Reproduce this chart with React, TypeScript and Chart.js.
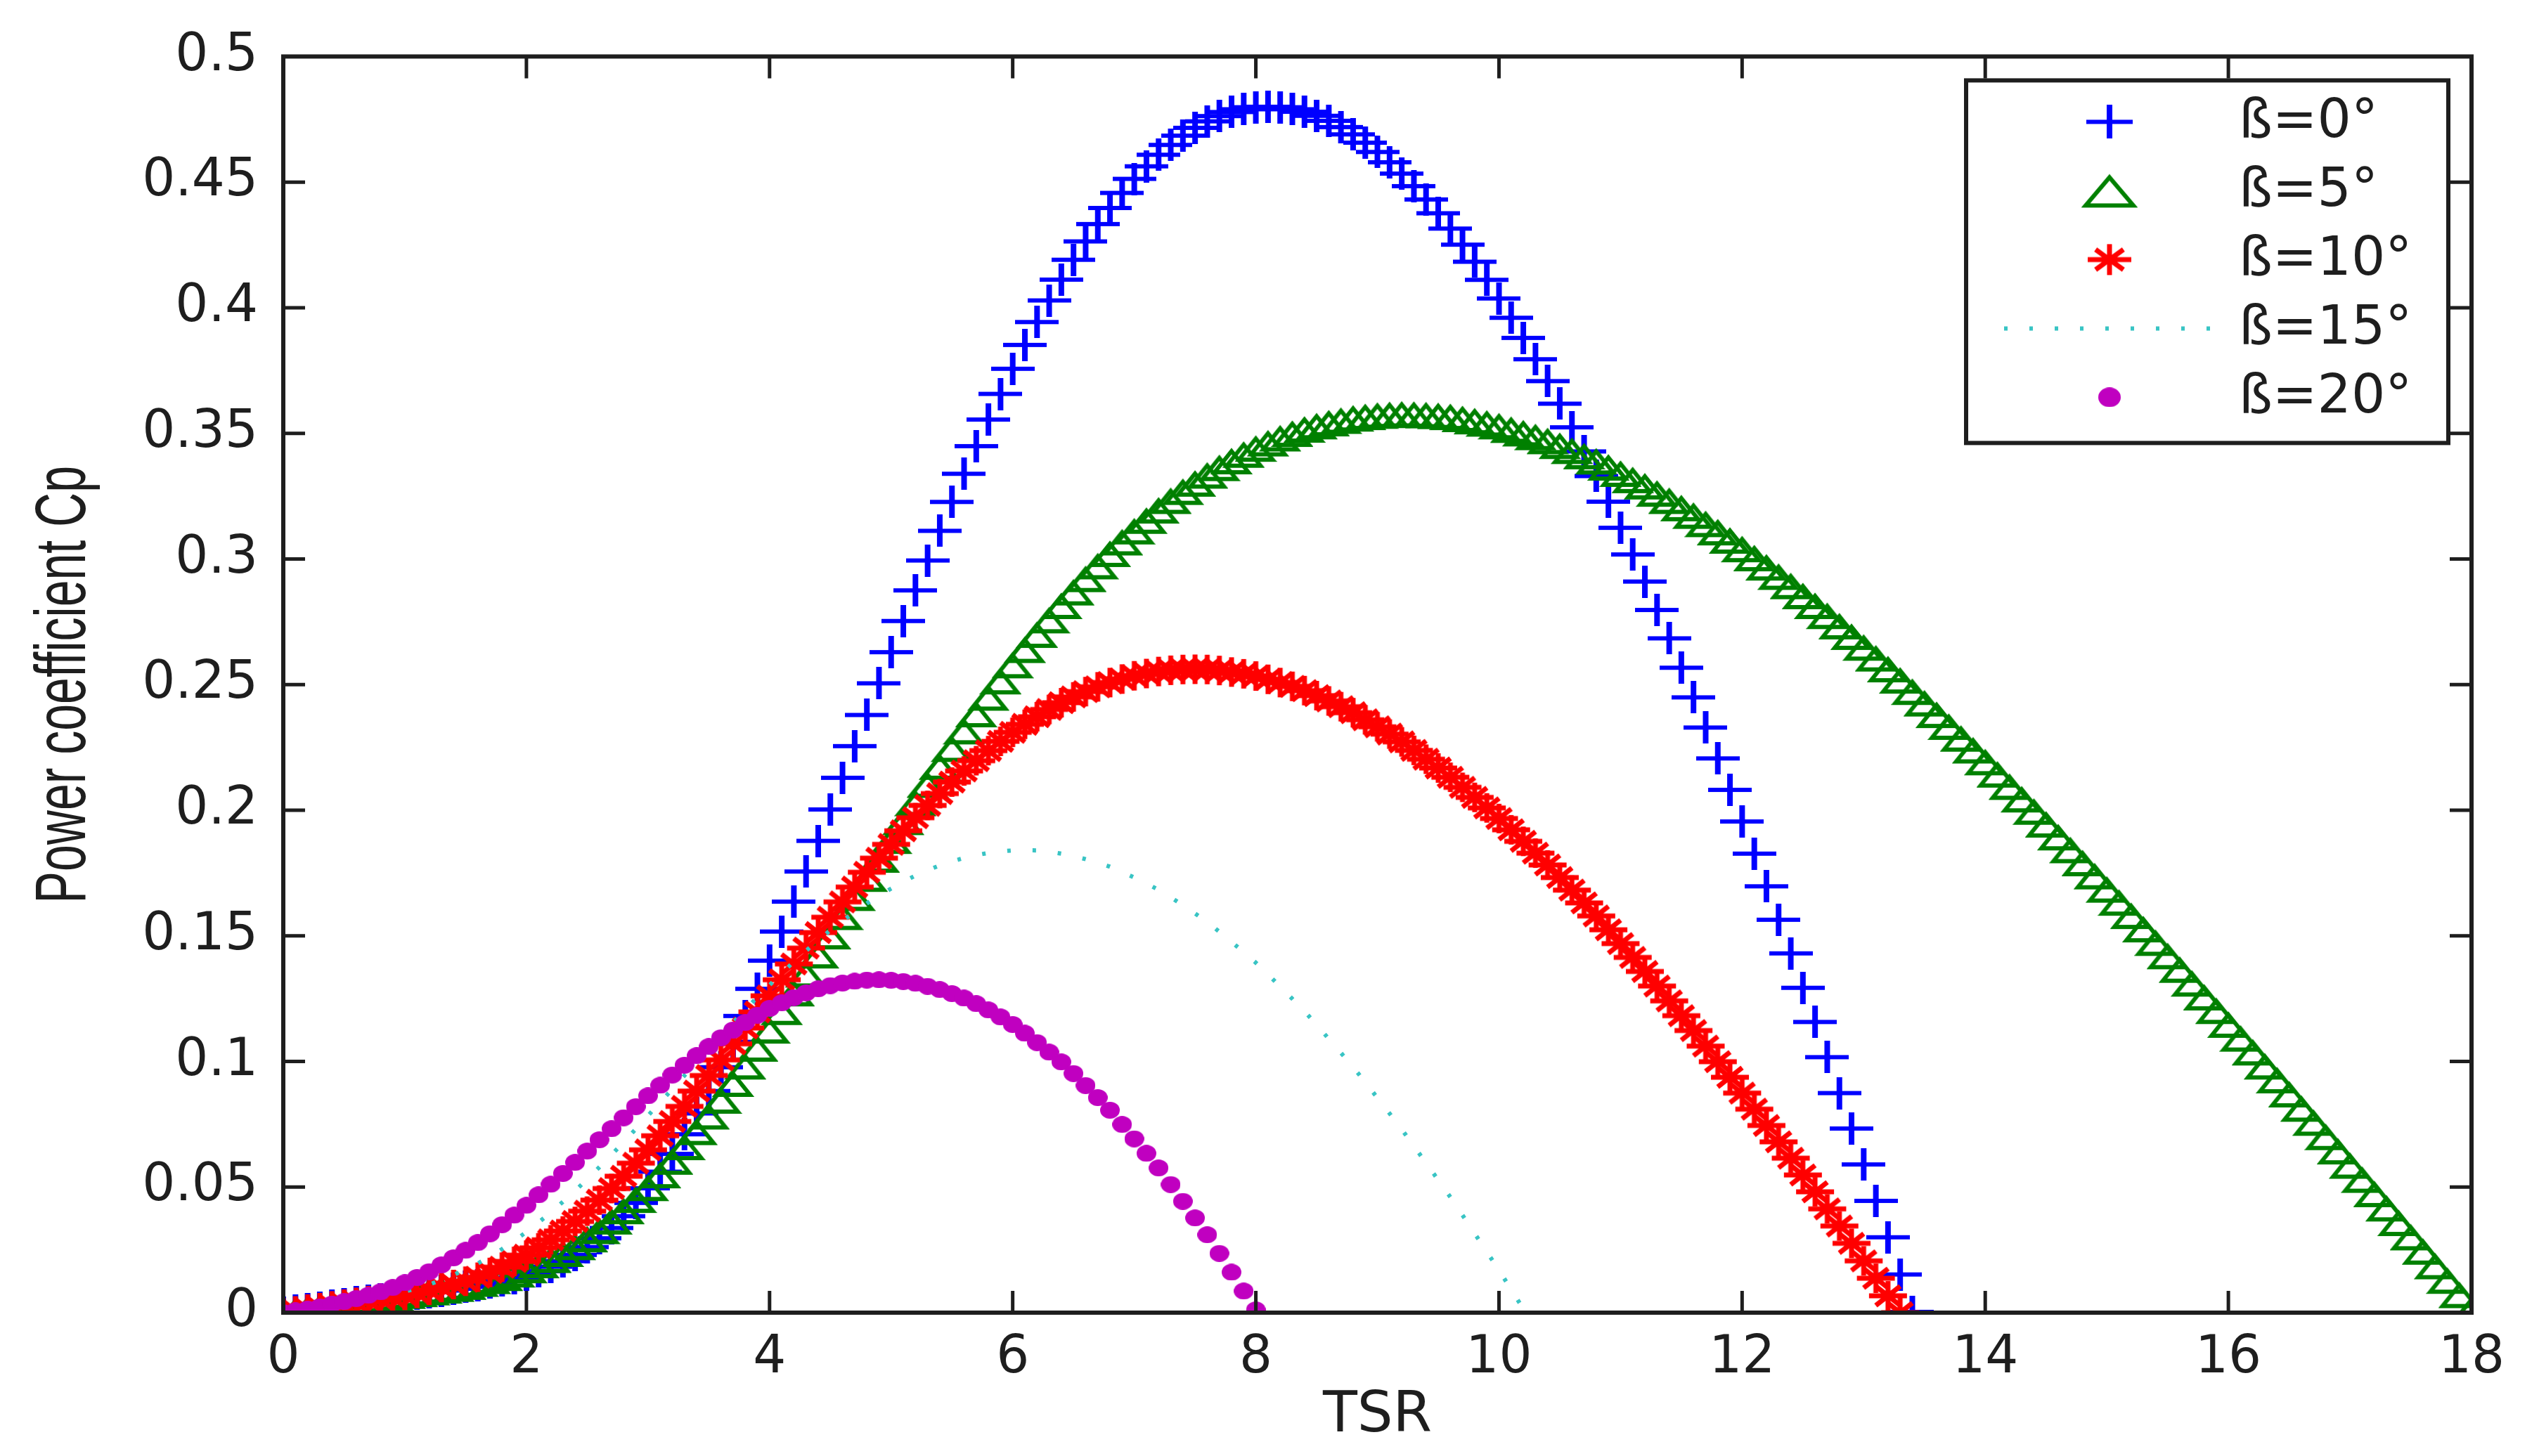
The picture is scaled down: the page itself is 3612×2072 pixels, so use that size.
import React, { useEffect, useRef } from "react";
import { Chart, registerables } from "chart.js";

Chart.register(...registerables);

// Tip speed ratio sample points
const TSR = [
  0, 0.1, 0.2, 0.3, 0.4, 0.5, 0.6, 0.7, 0.8, 0.9,
  1, 1.1, 1.2, 1.3, 1.4, 1.5, 1.6, 1.7, 1.8, 1.9,
  2, 2.1, 2.2, 2.3, 2.4, 2.5, 2.6, 2.7, 2.8, 2.9,
  3, 3.1, 3.2, 3.3, 3.4, 3.5, 3.6, 3.7, 3.8, 3.9,
  4, 4.1, 4.2, 4.3, 4.4, 4.5, 4.6, 4.7, 4.8, 4.9,
  5, 5.1, 5.2, 5.3, 5.4, 5.5, 5.6, 5.7, 5.8, 5.9,
  6, 6.1, 6.2, 6.3, 6.4, 6.5, 6.6, 6.7, 6.8, 6.9,
  7, 7.1, 7.2, 7.3, 7.4, 7.5, 7.6, 7.7, 7.8, 7.9,
  8, 8.1, 8.2, 8.3, 8.4, 8.5, 8.6, 8.7, 8.8, 8.9,
  9, 9.1, 9.2, 9.3, 9.4, 9.5, 9.6, 9.7, 9.8, 9.9,
  10, 10.1, 10.2, 10.3, 10.4, 10.5, 10.6, 10.7, 10.8, 10.9,
  11, 11.1, 11.2, 11.3, 11.4, 11.5, 11.6, 11.7, 11.8, 11.9,
  12, 12.1, 12.2, 12.3, 12.4, 12.5, 12.6, 12.7, 12.8, 12.9,
  13, 13.1, 13.2, 13.3, 13.4, 13.5, 13.6, 13.7, 13.8, 13.9,
  14, 14.1, 14.2, 14.3, 14.4, 14.5, 14.6, 14.7, 14.8, 14.9,
  15, 15.1, 15.2, 15.3, 15.4, 15.5, 15.6, 15.7, 15.8, 15.9,
  16, 16.1, 16.2, 16.3, 16.4, 16.5, 16.6, 16.7, 16.8, 16.9,
  17, 17.1, 17.2, 17.3, 17.4, 17.5, 17.6, 17.7, 17.8, 17.9,
  18,
];

// Cp for pitch angle 0°
const CP_BETA0 = [
  0, 0.0007, 0.0014, 0.0020, 0.0027, 0.0034, 0.0041, 0.0048, 0.0054, 0.0061,
  0.0068, 0.0075, 0.0082, 0.0088, 0.0095, 0.0103, 0.0110, 0.0119, 0.0128, 0.0138,
  0.0151, 0.0165, 0.0183, 0.0205, 0.0230, 0.0261, 0.0296, 0.0337, 0.0384, 0.0437,
  0.0495, 0.0561, 0.0632, 0.0710, 0.0793, 0.0882, 0.0977, 0.1078, 0.1181, 0.1289,
  0.1401, 0.1517, 0.1636, 0.1756, 0.1878, 0.2003, 0.2129, 0.2255, 0.2379, 0.2505,
  0.2629, 0.2753, 0.2875, 0.2994, 0.3112, 0.3227, 0.3339, 0.3449, 0.3555, 0.3657,
  0.3757, 0.3852, 0.3943, 0.4029, 0.4112, 0.4191, 0.4264, 0.4333, 0.4397, 0.4457,
  0.4513, 0.4563, 0.4609, 0.4648, 0.4685, 0.4716, 0.4742, 0.4763, 0.4779, 0.4790,
  0.4798, 0.4800, 0.4798, 0.4790, 0.4780, 0.4764, 0.4744, 0.4719, 0.4690, 0.4657,
  0.4620, 0.4579, 0.4534, 0.4484, 0.4431, 0.4376, 0.4315, 0.4251, 0.4183, 0.4111,
  0.4037, 0.3960, 0.3880, 0.3795, 0.3708, 0.3618, 0.3524, 0.3428, 0.3330, 0.3228,
  0.3124, 0.3018, 0.2910, 0.2797, 0.2684, 0.2567, 0.2449, 0.2329, 0.2206, 0.2081,
  0.1955, 0.1827, 0.1697, 0.1564, 0.1430, 0.1293, 0.1157, 0.1017, 0.0874, 0.0733,
  0.0590, 0.0445, 0.0300, 0.0152, 0.0003,
];

// Cp for pitch angle 5°
const CP_BETA5 = [
  0, 0.0007, 0.0014, 0.0020, 0.0027, 0.0034, 0.0041, 0.0048, 0.0054, 0.0061,
  0.0068, 0.0075, 0.0082, 0.0089, 0.0096, 0.0104, 0.0116, 0.0127, 0.0139, 0.0153,
  0.0170, 0.0190, 0.0211, 0.0235, 0.0262, 0.0293, 0.0326, 0.0364, 0.0405, 0.0450,
  0.0497, 0.0548, 0.0602, 0.0660, 0.0720, 0.0782, 0.0845, 0.0912, 0.0981, 0.1052,
  0.1124, 0.1198, 0.1272, 0.1347, 0.1423, 0.1499, 0.1576, 0.1652, 0.1728, 0.1804,
  0.1879, 0.1954, 0.2029, 0.2102, 0.2174, 0.2245, 0.2315, 0.2383, 0.2449, 0.2514,
  0.2578, 0.2639, 0.2699, 0.2757, 0.2814, 0.2868, 0.2921, 0.2972, 0.3021, 0.3067,
  0.3111, 0.3153, 0.3194, 0.3232, 0.3268, 0.3301, 0.3333, 0.3363, 0.3390, 0.3416,
  0.3440, 0.3461, 0.3481, 0.3499, 0.3516, 0.3529, 0.3541, 0.3551, 0.3560, 0.3566,
  0.3571, 0.3574, 0.3576, 0.3575, 0.3573, 0.3570, 0.3566, 0.3558, 0.3549, 0.3540,
  0.3529, 0.3515, 0.3501, 0.3486, 0.3470, 0.3451, 0.3431, 0.3410, 0.3389, 0.3365,
  0.3340, 0.3315, 0.3290, 0.3261, 0.3232, 0.3203, 0.3173, 0.3140, 0.3107, 0.3074,
  0.3040, 0.3004, 0.2967, 0.2930, 0.2893, 0.2853, 0.2814, 0.2774, 0.2733, 0.2691,
  0.2648, 0.2605, 0.2562, 0.2517, 0.2472, 0.2426, 0.2380, 0.2333, 0.2286, 0.2239,
  0.2192, 0.2143, 0.2094, 0.2044, 0.1995, 0.1944, 0.1893, 0.1842, 0.1790, 0.1738,
  0.1685, 0.1633, 0.1580, 0.1527, 0.1473, 0.1420, 0.1366, 0.1311, 0.1256, 0.1202,
  0.1147, 0.1092, 0.1037, 0.0981, 0.0926, 0.0870, 0.0813, 0.0757, 0.0700, 0.0643,
  0.0586, 0.0530, 0.0473, 0.0416, 0.0358, 0.0301, 0.0244, 0.0186, 0.0128, 0.0071,
  0.0013,
];

// Cp for pitch angle 10°
const CP_BETA10 = [
  0, 0.0007, 0.0014, 0.0020, 0.0027, 0.0034, 0.0041, 0.0048, 0.0054, 0.0061,
  0.0069, 0.0077, 0.0089, 0.0100, 0.0112, 0.0125, 0.0141, 0.0160, 0.0181, 0.0204,
  0.0229, 0.0258, 0.0290, 0.0325, 0.0363, 0.0404, 0.0448, 0.0494, 0.0543, 0.0595,
  0.0648, 0.0704, 0.0761, 0.0821, 0.0882, 0.0944, 0.1006, 0.1070, 0.1133, 0.1197,
  0.1261, 0.1325, 0.1388, 0.1451, 0.1513, 0.1574, 0.1635, 0.1694, 0.1753, 0.1809,
  0.1864, 0.1918, 0.1970, 0.2019, 0.2066, 0.2112, 0.2156, 0.2197, 0.2237, 0.2274,
  0.2310, 0.2342, 0.2372, 0.2401, 0.2428, 0.2451, 0.2472, 0.2491, 0.2508, 0.2522,
  0.2535, 0.2544, 0.2552, 0.2557, 0.2560, 0.2561, 0.2560, 0.2556, 0.2550, 0.2543,
  0.2534, 0.2521, 0.2508, 0.2493, 0.2476, 0.2456, 0.2435, 0.2412, 0.2388, 0.2360,
  0.2332, 0.2303, 0.2272, 0.2238, 0.2203, 0.2168, 0.2131, 0.2091, 0.2051, 0.2009,
  0.1967, 0.1922, 0.1876, 0.1829, 0.1782, 0.1732, 0.1682, 0.1631, 0.1579, 0.1524,
  0.1469, 0.1414, 0.1358, 0.1300, 0.1241, 0.1182, 0.1123, 0.1061, 0.0999, 0.0937,
  0.0874, 0.0810, 0.0745, 0.0680, 0.0615, 0.0548, 0.0481, 0.0413, 0.0345, 0.0276,
  0.0206, 0.0137, 0.0067, 0.0000,
];

// Cp for pitch angle 15°
const CP_BETA15 = [
  0, 0.0007, 0.0014, 0.0020, 0.0027, 0.0034, 0.0042, 0.0050, 0.0061, 0.0072,
  0.0084, 0.0097, 0.0112, 0.0130, 0.0150, 0.0172, 0.0196, 0.0223, 0.0253, 0.0286,
  0.0321, 0.0359, 0.0399, 0.0441, 0.0485, 0.0531, 0.0579, 0.0628, 0.0679, 0.0731,
  0.0784, 0.0837, 0.0890, 0.0944, 0.0997, 0.1050, 0.1103, 0.1155, 0.1206, 0.1256,
  0.1304, 0.1351, 0.1397, 0.1440, 0.1482, 0.1522, 0.1559, 0.1595, 0.1629, 0.1659,
  0.1688, 0.1715, 0.1740, 0.1761, 0.1780, 0.1796, 0.1810, 0.1821, 0.1830, 0.1836,
  0.1840, 0.1841, 0.1840, 0.1835, 0.1827, 0.1817, 0.1805, 0.1791, 0.1775, 0.1754,
  0.1732, 0.1708, 0.1683, 0.1653, 0.1622, 0.1589, 0.1555, 0.1516, 0.1476, 0.1435,
  0.1393, 0.1346, 0.1298, 0.1249, 0.1200, 0.1145, 0.1090, 0.1034, 0.0978, 0.0917,
  0.0855, 0.0793, 0.0730, 0.0663, 0.0596, 0.0528, 0.0460, 0.0388, 0.0315, 0.0242,
  0.0169, 0.0092, 0.0015,
];

// Cp for pitch angle 20°
const CP_BETA20 = [
  0, 0.0007, 0.0014, 0.0023, 0.0034, 0.0044, 0.0056, 0.0069, 0.0083, 0.0100,
  0.0119, 0.0140, 0.0163, 0.0190, 0.0218, 0.0248, 0.0279, 0.0314, 0.0350, 0.0388,
  0.0427, 0.0469, 0.0511, 0.0554, 0.0598, 0.0643, 0.0688, 0.0732, 0.0776, 0.0820,
  0.0863, 0.0905, 0.0946, 0.0985, 0.1023, 0.1059, 0.1094, 0.1125, 0.1155, 0.1184,
  0.1211, 0.1233, 0.1254, 0.1273, 0.1289, 0.1302, 0.1312, 0.1319, 0.1324, 0.1325,
  0.1323, 0.1318, 0.1311, 0.1299, 0.1286, 0.1270, 0.1252, 0.1230, 0.1205, 0.1177,
  0.1147, 0.1112, 0.1075, 0.1037, 0.0998, 0.0952, 0.0904, 0.0856, 0.0806, 0.0749,
  0.0692, 0.0634, 0.0576, 0.0510, 0.0443, 0.0377, 0.0310, 0.0236, 0.0161, 0.0086,
  0.0011,
];

const SERIES_LABELS = ["ß=0°", "ß=5°", "ß=10°", "ß=15°", "ß=20°"];
const X_TITLE = "TSR";
const Y_TITLE = "Power coefficient Cp";

const FONT = "'DejaVu Sans', 'Liberation Sans', sans-serif";
const TITLE_FONT = "'Liberation Sans', Arial, sans-serif";
const INK = "#1e1e1e";
const BLUE = "#0000ff";
const GREEN = "#008000";
const RED = "#ff0000";
const CYAN = "#38c4c4";
const MAGENTA = "#c000c0";

const toPoints = (vals: number[]) => vals.map((y, i) => ({ x: TSR[i], y }));

function makeCanvas(w: number, h: number) {
  const c = document.createElement("canvas");
  c.width = w;
  c.height = h;
  return c;
}

function plusMarker(w: number, h: number, color: string) {
  const c = makeCanvas(w, h);
  const g = c.getContext("2d")!;
  g.fillStyle = color;
  g.fillRect(0, h / 2 - 3, w, 6);
  g.fillRect(w / 2 - 4, 0, 8, h);
  return c;
}

function starMarker(w: number, h: number, color: string, lw: number) {
  const c = makeCanvas(w, h);
  const g = c.getContext("2d")!;
  g.strokeStyle = color;
  g.lineWidth = lw;
  g.beginPath();
  g.moveTo(2, h / 2);
  g.lineTo(w - 2, h / 2);
  g.moveTo(w / 2, 2);
  g.lineTo(w / 2, h - 2);
  g.moveTo(w * 0.2, h * 0.2);
  g.lineTo(w * 0.8, h * 0.8);
  g.moveTo(w * 0.8, h * 0.2);
  g.lineTo(w * 0.2, h * 0.8);
  g.stroke();
  return c;
}

function triangleMarker(w: number, h: number, color: string, lw: number) {
  const c = makeCanvas(w, h);
  const g = c.getContext("2d")!;
  g.strokeStyle = color;
  g.lineWidth = lw;
  g.lineJoin = "miter";
  g.beginPath();
  g.moveTo(w / 2, lw);
  g.lineTo(w - lw, h - lw / 2 - 1);
  g.lineTo(lw, h - lw / 2 - 1);
  g.closePath();
  g.stroke();
  return c;
}

function dotMarker(w: number, h: number, color: string) {
  const c = makeCanvas(w, h);
  const g = c.getContext("2d")!;
  g.fillStyle = color;
  g.beginPath();
  g.ellipse(w / 2, h / 2, w / 2, h / 2, 0, 0, Math.PI * 2);
  g.fill();
  return c;
}

export default function App() {
  const canvasRef = useRef<HTMLCanvasElement | null>(null);

  useEffect(() => {
    if (!canvasRef.current) return;

    const mPlus = plusMarker(62, 46, BLUE);
    const mTri = triangleMarker(60, 40, GREEN, 6);
    const mStar = starMarker(58, 46, RED, 7);
    const mDot = dotMarker(28, 24, MAGENTA);

    const lPlus = plusMarker(66, 48, BLUE);
    const lTri = triangleMarker(80, 50, GREEN, 6);
    const lStar = starMarker(66, 48, RED, 7);
    const lDot = dotMarker(32, 28, MAGENTA);

    const frameLegendPlugin = {
      id: "frameLegend",
      afterDatasetsDraw(chart: any) {
        const { ctx, chartArea: a, scales } = chart;
        const xs = scales.x;
        const ys = scales.y;
        const tl = 31;
        ctx.save();
        ctx.strokeStyle = INK;
        ctx.lineWidth = 5;
        ctx.setLineDash([]);
        ctx.beginPath();
        xs.ticks.forEach((t: any) => {
          const px = xs.getPixelForValue(t.value);
          ctx.moveTo(px, a.bottom);
          ctx.lineTo(px, a.bottom - tl);
          ctx.moveTo(px, a.top);
          ctx.lineTo(px, a.top + tl);
        });
        ys.ticks.forEach((t: any) => {
          const py = ys.getPixelForValue(t.value);
          ctx.moveTo(a.left, py);
          ctx.lineTo(a.left + tl, py);
          ctx.moveTo(a.right, py);
          ctx.lineTo(a.right - tl, py);
        });
        ctx.stroke();
        ctx.lineWidth = 6;
        ctx.strokeRect(a.left, a.top, a.right - a.left, a.bottom - a.top);

        // legend box (top-right inside the axes)
        const bw = 686;
        const bh = 516;
        const bx = a.right - 33 - bw;
        const by = a.top + 34;
        ctx.fillStyle = "#ffffff";
        ctx.fillRect(bx, by, bw, bh);
        ctx.lineWidth = 6;
        ctx.strokeStyle = INK;
        ctx.strokeRect(bx, by, bw, bh);

        const mx = bx + 204;
        const tx = bx + 388;
        const rowY = (i: number) => by + 59 + i * 98;
        const put = (img: HTMLCanvasElement, i: number) =>
          ctx.drawImage(img, mx - img.width / 2, rowY(i) - img.height / 2);

        put(lPlus, 0);
        put(lTri, 1);
        put(lStar, 2);
        ctx.strokeStyle = CYAN;
        ctx.lineWidth = 6;
        ctx.setLineDash([5, 31]);
        ctx.beginPath();
        ctx.moveTo(bx + 54, rowY(3));
        ctx.lineTo(bx + 356, rowY(3));
        ctx.stroke();
        ctx.setLineDash([]);
        put(lDot, 4);

        ctx.fillStyle = INK;
        ctx.font = `76px ${FONT}`;
        ctx.textAlign = "left";
        ctx.textBaseline = "middle";
        SERIES_LABELS.forEach((lab, i) => ctx.fillText(lab, tx, rowY(i) + 2));

        // y-axis title (tall, narrow lettering like the original)
        const cy = (a.top + a.bottom) / 2;
        ctx.translate(85, cy);
        ctx.rotate(-Math.PI / 2);
        ctx.scale(1, 1.5);
        ctx.font = `68px ${TITLE_FONT}`;
        ctx.textAlign = "center";
        ctx.textBaseline = "alphabetic";
        ctx.fillText(Y_TITLE, 0, 24);
        ctx.restore();
      },
    };

    const chart = new Chart(canvasRef.current, {
      type: "scatter",
      data: {
        datasets: [
          {
            label: SERIES_LABELS[0],
            data: toPoints(CP_BETA0),
            showLine: false,
            pointStyle: mPlus,
            pointRadius: 23,
            borderColor: BLUE,
            backgroundColor: BLUE,
            order: 5,
          },
          {
            label: SERIES_LABELS[1],
            data: toPoints(CP_BETA5),
            showLine: false,
            pointStyle: mTri,
            pointRadius: 22,
            borderColor: GREEN,
            backgroundColor: GREEN,
            order: 4,
          },
          {
            label: SERIES_LABELS[2],
            data: toPoints(CP_BETA10),
            showLine: false,
            pointStyle: mStar,
            pointRadius: 22,
            borderColor: RED,
            backgroundColor: RED,
            order: 3,
          },
          {
            label: SERIES_LABELS[3],
            data: toPoints(CP_BETA15),
            showLine: true,
            pointRadius: 0,
            borderColor: CYAN,
            borderWidth: 6,
            borderDash: [5, 31],
            borderCapStyle: "butt",
            tension: 0,
            order: 2,
          },
          {
            label: SERIES_LABELS[4],
            data: toPoints(CP_BETA20),
            showLine: false,
            pointStyle: mDot,
            pointRadius: 12,
            borderColor: MAGENTA,
            backgroundColor: MAGENTA,
            order: 1,
          },
        ],
      },
      options: {
        animation: false,
        responsive: true,
        maintainAspectRatio: false,
        events: [],
        layout: { padding: { left: 10, right: 96, top: 76, bottom: 8 } },
        plugins: {
          legend: { display: false },
          tooltip: { enabled: false },
        },
        scales: {
          x: {
            type: "linear",
            min: 0,
            max: 18,
            ticks: {
              stepSize: 2,
              color: INK,
              font: { family: FONT, size: 74 },
              padding: 21,
              maxRotation: 0,
              autoSkip: false,
            },
            grid: { display: false, drawTicks: false },
            border: { display: false },
            title: {
              display: true,
              text: X_TITLE,
              color: INK,
              font: { family: FONT, size: 80 },
              padding: { top: 0, bottom: 0 },
            },
            afterFit: (s: any) => {
              s.height = 196;
            },
          },
          y: {
            type: "linear",
            min: 0,
            max: 0.5,
            ticks: {
              stepSize: 0.05,
              color: INK,
              font: { family: FONT, size: 74 },
              padding: 36,
              callback: (v: any) => String(Number(Number(v).toFixed(2))),
            },
            grid: { display: false, drawTicks: false },
            border: { display: false },
            title: { display: false, text: Y_TITLE },
            afterFit: (s: any) => {
              s.width = 393;
            },
          },
        },
      },
      plugins: [frameLegendPlugin],
    } as any);
    return () => chart.destroy();
  }, []);

  return (
    <div
      style={{
        position: "fixed",
        left: 0,
        top: 0,
        width: "3612px",
        height: "2072px",
        background: "#ffffff",
      }}
    >
      <canvas ref={canvasRef} />
    </div>
  );
}
